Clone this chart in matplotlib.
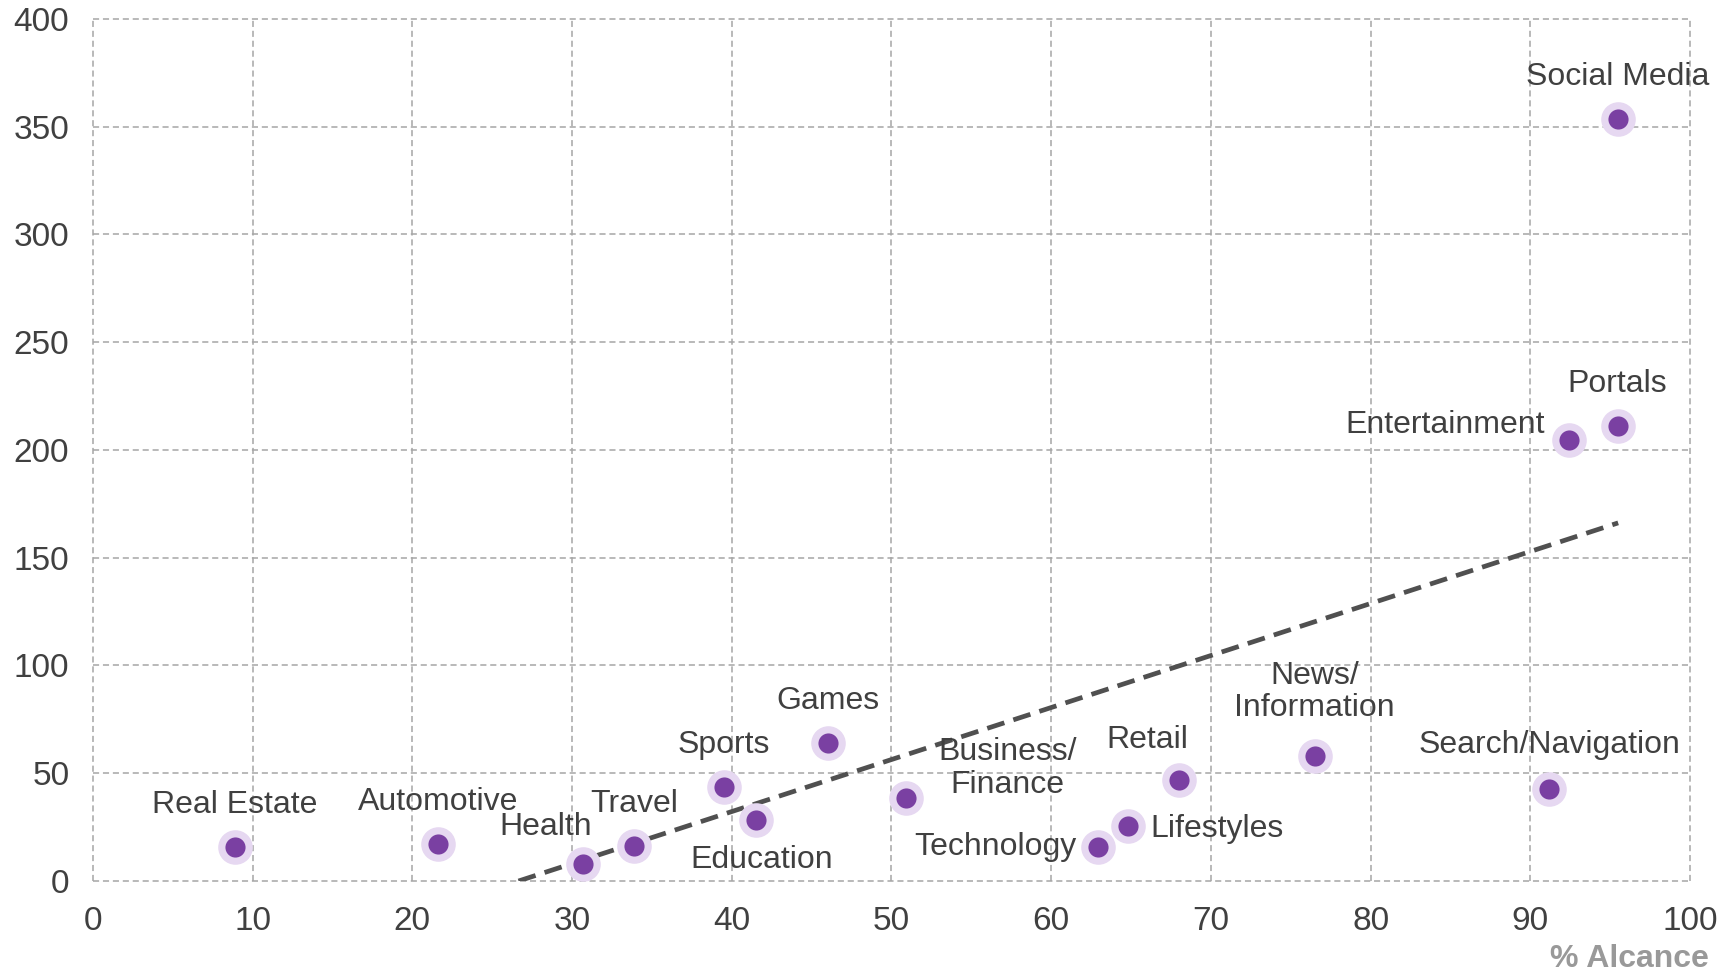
import numpy as np
import matplotlib.pyplot as plt

plt.rcParams['font.family'] = ['Liberation Sans', 'DejaVu Sans']

# % alcance vs. valor por categoría
categorias = ["Real Estate", "Automotive", "Health", "Travel", "Sports", "Education",
              "Games", "Business/\nFinance", "Technology", "Lifestyles", "Retail",
              "News/\nInformation", "Search/Navigation", "Entertainment", "Portals",
              "Social Media"]
alcance = [8.9, 21.6, 30.7, 33.9, 39.5, 41.5, 46.0, 50.9, 62.9, 64.8, 68.0, 76.5,
           91.2, 92.4, 95.5, 95.5]
valor = [15.8, 17.3, 8.1, 16.3, 43.8, 28.5, 64.1, 38.7, 15.8, 25.4, 46.8, 58.0,
         42.7, 204.6, 211.2, 353.7]

xticks = list(range(0, 101, 10))
yticks = list(range(0, 401, 50))

# desplazamiento de cada etiqueta (puntos) y alineación
offs = {
    "Real Estate": (0, 30, "center"),
    "Automotive": (0, 30, "center"),
    "Health": (-27, 26, "center"),
    "Travel": (0, 30, "center"),
    "Sports": (0, 30, "center"),
    "Education": (4, -29, "center"),
    "Games": (0, 30, "center"),
    "Business/\nFinance": (73, 21, "center"),
    "Technology": (-15, 0, "right"),
    "Lifestyles": (16, -2, "left"),
    "Retail": (-23, 29, "center"),
    "News/\nInformation": (0, 46, "center"),
    "Search/Navigation": (0, 32, "center"),
    "Entertainment": (-17, 11, "right"),
    "Portals": (-1, 30, "center"),
    "Social Media": (0, 30, "center"),
}

fig = plt.figure(figsize=(17.21, 9.72), dpi=100)
ax = fig.add_axes([0.054, 0.0936, 0.928, 0.887])

ax.set_xlim(0, 100)
ax.set_ylim(0, 400)
ax.set_xticks(xticks)
ax.set_yticks(yticks)
for s in ax.spines.values():
    s.set_visible(False)
ax.grid(True, color="#a6a6a6", linestyle=(0, (4, 2.5)), linewidth=1.1)
for gl in ax.get_xgridlines() + ax.get_ygridlines():
    gl.set_clip_on(False)
ax.set_axisbelow(True)
ax.tick_params(length=0, labelsize=24, labelcolor="#404040")
ax.tick_params(axis="x", pad=18)
ax.tick_params(axis="y", pad=17)

# línea de tendencia (regresión lineal)
m, b = np.polyfit(alcance, valor, 1)
x0 = -b / m
xt = np.array([x0, max(alcance)])
ax.plot(xt, m * xt + b, color="#505050", linewidth=3.4, linestyle=(0, (3.8, 2)), zorder=2)

ax.scatter(alcance, valor, s=620, color="#e6d8f1", zorder=3, linewidths=0, clip_on=False)
ax.scatter(alcance, valor, s=210, color="#7a40a2", zorder=4, linewidths=0, clip_on=False)

for cat, x, y in zip(categorias, alcance, valor):
    dx, dy, ha = offs[cat]
    ax.annotate(cat, (x, y), xytext=(dx, dy), textcoords="offset points",
                ha=ha, va="center", fontsize=23, color="#404040",
                linespacing=1.1, zorder=5)

fig.text(0.993, 0.013, "% Alcance", ha="right", va="center", fontsize=23,
         fontweight="bold", color="#999999")

fig.savefig("out.png", dpi=100)
